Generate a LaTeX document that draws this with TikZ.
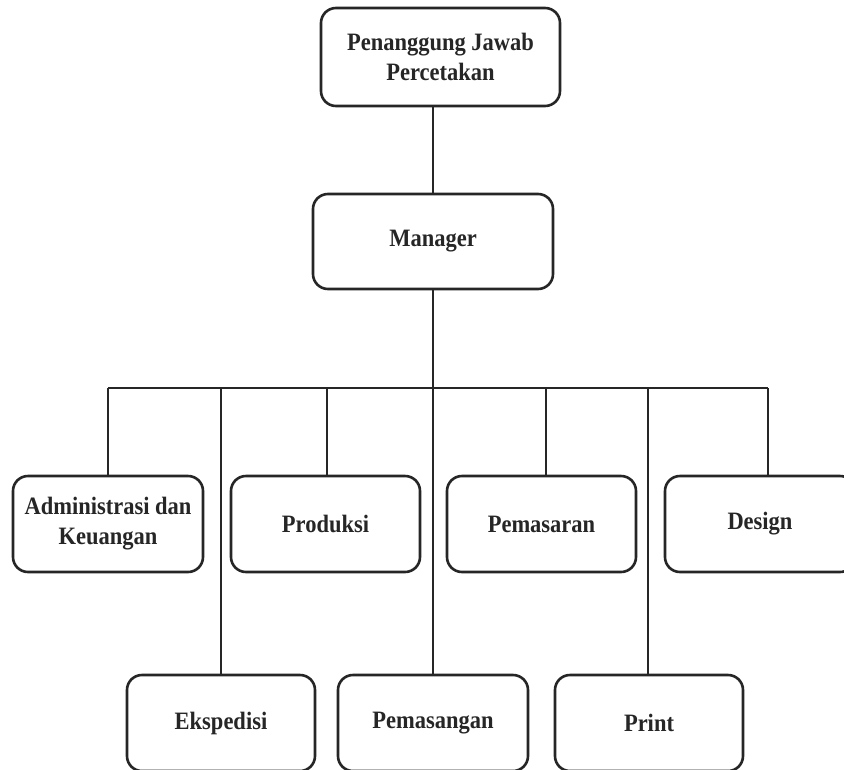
\documentclass[tikz,border=0pt]{standalone}
\usepackage{fontspec}
\newfontfamily\boxfont{Liberation Serif}[FakeStretch=0.9]
\tikzset{
  orgbox/.style={draw=black!85, line width=2.6pt, rounded corners=15pt, fill=white,
    align=center, inner sep=0pt, font=\boxfont\bfseries\fontsize{25}{30}\selectfont, text=black!85},
  link/.style={draw=black!85, line width=2.4pt}
}
\begin{document}
\begin{tikzpicture}[x=1pt,y=-1pt]
\useasboundingbox (0,0) rectangle (844,769);
\clip (0,0) rectangle (844,769);
\fill[white] (0,0) rectangle (844,769);
% bus coordinates
\coordinate (bA) at (108,388);
\coordinate (bE) at (221,388);
\coordinate (bP) at (327,388);
\coordinate (bM) at (433,388);
\coordinate (bS) at (546,388);
\coordinate (bR) at (648,388);
\coordinate (bD) at (768,388);
% nodes
\node[orgbox, minimum width=239pt, minimum height=98pt] (top) at (440.5,57) {Penanggung Jawab\\Percetakan};
\node[orgbox, minimum width=240pt, minimum height=95pt] (mgr) at (433,241.5) {Manager};
\node[orgbox, minimum width=190pt, minimum height=96pt] (adm) at (108,524) {Administrasi dan\\Keuangan};
\node[orgbox, minimum width=189pt, minimum height=96pt] (pro) at (325.5,524) {Produksi};
\node[orgbox, minimum width=189pt, minimum height=96pt] (pms) at (541.5,524) {Pemasaran};
\node[orgbox, minimum width=190pt, minimum height=96pt] (des) at (760,524) {Design};
\node[orgbox, minimum width=188pt, minimum height=96pt] (eks) at (221,723) {Ekspedisi};
\node[orgbox, minimum width=190pt, minimum height=96pt] (pmg) at (433,723) {Pemasangan};
\node[orgbox, minimum width=188pt, minimum height=96pt] (prt) at (649,723) {Print};
% connectors
\begin{scope}[on background layer/.style={}]
\end{scope}
\draw[link] (mgr.north |- top.south) -- (mgr.north);
\draw[link] (mgr.south) -- (bM);
\draw[link] (bA) -- (bD);
\draw[link] (bA) -- (bA |- adm.north);
\draw[link] (bE) -- (bE |- eks.north);
\draw[link] (bP) -- (bP |- pro.north);
\draw[link] (bM) -- (bM |- pmg.north);
\draw[link] (bS) -- (bS |- pms.north);
\draw[link] (bR) -- (bR |- prt.north);
\draw[link] (bD) -- (bD |- des.north);
\end{tikzpicture}
\end{document}
